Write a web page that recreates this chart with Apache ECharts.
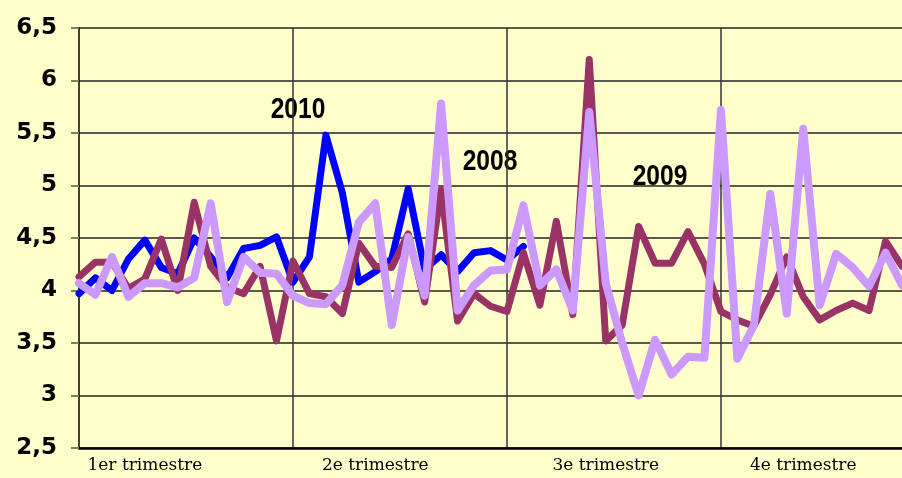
<!DOCTYPE html>
<html>
<head>
<meta charset="utf-8"/>
<title>Moyennes hebdomadaires 2008-2010</title>
<script src="https://cdn.jsdelivr.net/npm/echarts@6/dist/echarts.min.js"></script>
<style>
    html, body { margin: 0; padding: 0; background: #ffffcc; }
    #chart { width: 902px; height: 478px; }
</style>
</head>
<body>
<div id="chart"></div>
<script>
    // semaines (51 visibles), trimestres
    var weeks = [];
    for (var w = 1; w <= 51; w++) { weeks.push(String(w)); }
    var quarterLabels = ['1er trimestre', '2e trimestre', '3e trimestre', '4e trimestre'];
    var quarterLabelAt = [4, 18, 32, 44];
    var yTicks = [2.5, 3, 3.5, 4, 4.5, 5, 5.5, 6, 6.5];

    var s2010 = [3.97, 4.12, 4.0, 4.3, 4.48, 4.22, 4.16, 4.5, 4.32, 4.12,
        4.4, 4.43, 4.51, 4.08, 4.32, 5.48, 4.93, 4.08, 4.18, 4.3,
        4.97, 4.2, 4.34, 4.18, 4.36, 4.38, 4.29, 4.42];
    var s2009 = [4.13, 4.27, 4.27, 4.02, 4.11, 4.49, 4.0, 4.84, 4.23, 4.03,
        3.97, 4.23, 3.52, 4.28, 3.97, 3.94, 3.78, 4.45, 4.23, 4.22,
        4.54, 3.89, 4.96, 3.71, 3.97, 3.85, 3.8, 4.36, 3.86, 4.66,
        3.77, 6.2, 3.52, 3.67, 4.61, 4.26, 4.26, 4.56, 4.25, 3.8,
        3.72, 3.66, 3.96, 4.32, 3.94, 3.72, 3.81, 3.88, 3.81, 4.47, 4.23];
    var s2008 = [4.07, 3.96, 4.32, 3.94, 4.07, 4.07, 4.03, 4.12, 4.83, 3.89,
        4.32, 4.17, 4.16, 3.95, 3.88, 3.87, 4.05, 4.65, 4.83, 3.67,
        4.51, 3.95, 5.78, 3.81, 4.05, 4.19, 4.2, 4.81, 4.05, 4.2,
        3.81, 5.7, 4.07, 3.5, 3.0, 3.53, 3.2, 3.37, 3.36, 5.72,
        3.35, 3.67, 4.92, 3.78, 5.54, 3.86, 4.35, 4.22, 4.04, 4.36, 4.05];

    function lineSerie(name, data, color, width) {
        return {
            name: name,
            type: 'line',
            data: data,
            showSymbol: false,
            symbol: 'none',
            lineStyle: {color: color, width: width, cap: 'round', join: 'round'}
        };
    }

    function yearText(txt, x, y) {
        return {
            type: 'text', x: x, y: y, scaleX: 0.82,
            style: {text: txt, fontFamily: 'Liberation Sans', fontWeight: 'bold', fontSize: 30,
                fill: '#000', align: 'center', verticalAlign: 'middle'}
        };
    }

    var myChart = echarts.init(document.getElementById('chart'));
    var option = {
        backgroundColor: '#ffffcc',
        animation: false,
        grid: {left: 79, right: 0, top: 28, bottom: 30},
        xAxis: {
            type: 'category',
            boundaryGap: false,
            data: weeks,
            axisLine: {lineStyle: {color: '#000', width: 2.5}},
            axisTick: {show: false},
            axisLabel: {
                interval: function (i) { return quarterLabelAt.indexOf(i) >= 0; },
                formatter: function (v, i) {
                    var k = quarterLabelAt.indexOf(i);
                    return k >= 0 ? quarterLabels[k] : '';
                },
                fontFamily: 'DejaVu Serif',
                fontSize: 17,
                color: '#000',
                margin: 9
            },
            splitLine: {
                show: true,
                interval: function (i) { return i > 0 && i % 13 === 0; },
                lineStyle: {color: '#333', width: 1.5}
            }
        },
        yAxis: {
            type: 'value',
            min: yTicks[0],
            max: yTicks[yTicks.length - 1],
            interval: 0.5,
            axisLine: {show: true, lineStyle: {color: '#000', width: 1.5}},
            axisTick: {show: true, length: 8, lineStyle: {color: '#7f7f5f', width: 2}},
            axisLabel: {
                margin: 22,
                fontFamily: 'DejaVu Sans',
                fontWeight: 'bold',
                fontSize: 23,
                color: '#000',
                formatter: function (v) { return String(v).replace('.', ','); }
            },
            splitLine: {lineStyle: {color: '#222', width: 1.5}}
        },
        graphic: [
            yearText('2010', 298, 110),
            yearText('2008', 490, 162),
            yearText('2009', 660, 177)
        ],
        series: [
            lineSerie('2010', s2010, '#0000ff', 7),
            lineSerie('2009', s2009, '#993366', 7),
            lineSerie('2008', s2008, '#cc99ff', 8)
        ]
    };
    myChart.setOption(option);
</script>
</body>
</html>
